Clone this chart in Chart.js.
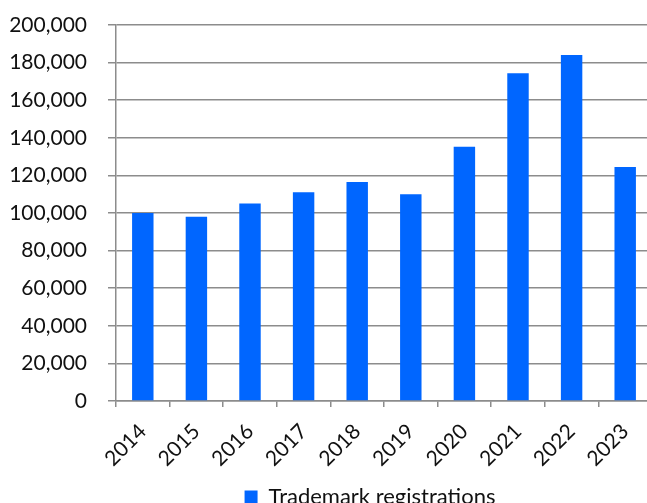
<!DOCTYPE html>
<html>
<head>
<meta charset="utf-8">
<script src="https://cdn.jsdelivr.net/npm/chart.js@4"></script>
<style>
  html, body { margin: 0; padding: 0; background: #fff; overflow: hidden; }
  #wrap { width: 647px; height: 503px; overflow: hidden; }
  canvas { display: block; }
</style>
</head>
<body>
<div id="wrap"><canvas id="barChart" width="660" height="518"></canvas></div>
<script>
// yearly trademark registrations
const years = ["2014", "2015", "2016", "2017", "2018", "2019", "2020", "2021", "2022", "2023"];
const registrations = [100000, 98000, 105000, 111000, 116500, 110000, 135300, 174300, 184000, 124500];
const yTicks = [0, 20000, 40000, 60000, 80000, 100000, 120000, 140000, 160000, 180000, 200000];

const axisGray = "#8c8c8c";
const tickFont = { family: "Lato", size: 21 };
const legendFont = { family: "Lato", size: 22 };

// nudge the legend a bit right of the canvas centre
const legendShift = {
  id: "legendShift",
  afterLayout(chart) {
    chart.legend.left += 44;
    chart.legend.right += 44;
  },
};

const data = {
  labels: years,
  datasets: [
    {
      label: "Trademark registrations",
      data: registrations,
      backgroundColor: "#0066ff",
      borderWidth: 0,
      barPercentage: 0.4,
      categoryPercentage: 1.0,
    },
  ],
};

const config = {
  type: "bar",
  data: data,
  plugins: [legendShift],
  options: {
    responsive: false,
    animation: false,
    layout: { padding: { top: 25, right: 8, left: 0, bottom: 0 } },
    plugins: {
      tooltip: { enabled: false },
      legend: {
        position: "bottom",
        labels: {
          color: "#111",
          font: legendFont,
          boxWidth: 13,
          boxHeight: 13,
          padding: 10,
        },
      },
    },
    scales: {
      x: {
        grid: {
          drawOnChartArea: false,
          drawTicks: true,
          tickLength: 6,
          color: axisGray,
          lineWidth: 1.5,
        },
        border: { color: axisGray, width: 1.5 },
        ticks: {
          color: "#111",
          font: tickFont,
          minRotation: 45,
          maxRotation: 45,
          padding: 12,
        },
        afterFit: (scale) => {
          scale.height = 75;
        },
      },
      y: {
        min: 0,
        max: 200000,
        afterBuildTicks: (scale) => {
          scale.ticks = yTicks.map((v) => ({ value: v }));
        },
        grid: {
          color: axisGray,
          lineWidth: 1.5,
          tickLength: 8,
        },
        border: { color: axisGray, width: 1.5 },
        ticks: {
          color: "#111",
          font: tickFont,
          padding: 21,
          callback: (v) => Number(v).toLocaleString("en-US"),
        },
        afterFit: (scale) => {
          scale.width = 116;
          scale.paddingTop = 0;
          scale.paddingBottom = 0;
        },
      },
    },
  },
};

const chart = new Chart(document.getElementById("barChart"), config);
</script>
</body>
</html>
